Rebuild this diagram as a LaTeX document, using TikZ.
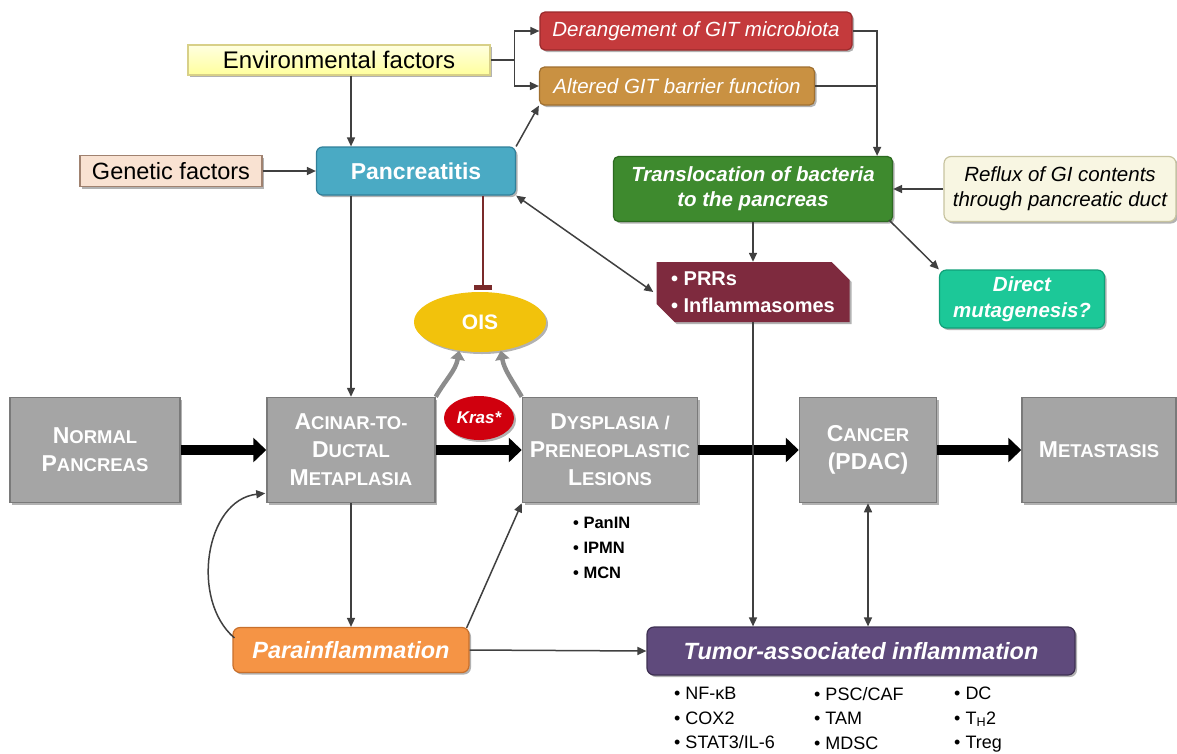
\documentclass[tikz,border=0pt]{standalone}
\usepackage{fontspec}
\setmainfont{Liberation Sans}
\usetikzlibrary{arrows.meta,shapes.geometric,shapes.misc,shadows,calc}
\definecolor{conn}{HTML}{404040}
\definecolor{envc}{HTML}{FFFFC4}
\definecolor{envt}{HTML}{FFFFE0}
\definecolor{envb}{HTML}{D8D088}
\definecolor{genc}{HTML}{F9E2D2}
\definecolor{genb}{HTML}{A08270}
\definecolor{pancc}{HTML}{4AAAC4}
\definecolor{pancb}{HTML}{31809A}
\definecolor{derc}{HTML}{C43A3C}
\definecolor{derb}{HTML}{9A2A2C}
\definecolor{altc}{HTML}{C99142}
\definecolor{altb}{HTML}{A07030}
\definecolor{transc}{HTML}{3E8A2E}
\definecolor{transb}{HTML}{2C6A20}
\definecolor{refc}{HTML}{F8F6E2}
\definecolor{refb}{HTML}{C8C4A0}
\definecolor{prrc}{HTML}{7E2A3E}
\definecolor{dirc}{HTML}{1CC898}
\definecolor{dirb}{HTML}{10A078}
\definecolor{oisc}{HTML}{F2C20C}
\definecolor{krasc}{HTML}{D0000E}
\definecolor{grayc}{HTML}{A5A5A5}
\definecolor{grayb}{HTML}{7A7A7A}
\definecolor{parac}{HTML}{F59445}
\definecolor{parab}{HTML}{C8702C}
\definecolor{tumc}{HTML}{5F4A7C}
\definecolor{tumb}{HTML}{3E3052}
\definecolor{barc}{HTML}{7A2A2A}
\definecolor{curvc}{HTML}{8C8C8C}
\newcommand\SmC[2]{{\fontsize{23}{28}\selectfont #1}{\fontsize{18.5}{28}\selectfont #2}}
\begin{document}
\begin{tikzpicture}[x=1pt,y=-1pt,
  shad/.style={drop shadow={shadow xshift=2pt,shadow yshift=-2pt,opacity=0.3,fill=black}},
  box/.style={shad,draw,line width=1.2pt,inner sep=0pt,align=center},
  graybox/.style={draw=grayb,fill=grayc,line width=1.5pt,inner sep=0pt,align=center,
     text=white,font=\bfseries\fontsize{23}{28}\selectfont,minimum height=105pt,shad},
  conarrow/.style={draw=conn,line width=1.5pt,-{Triangle[length=9pt,width=8pt]}},
  conline/.style={draw=conn,line width=1.5pt},
  dblarrow/.style={draw=conn,line width=1.5pt,{Triangle[length=9pt,width=8pt]}-{Triangle[length=9pt,width=8pt]}},
  fat/.style={draw=black,line width=10pt,-{Triangle[length=13pt,width=24pt]}},
  grayarrow/.style={draw=curvc,line width=4.5pt,-{Triangle[length=9pt,width=14pt]}},
  listtext/.style={inner sep=0pt,align=left,anchor=north west,font=\fontsize{18}{24.5}\selectfont}
]
\useasboundingbox[fill=white] (0,0) rectangle (1177,753);

% top nodes
\node[box,draw=envb,top color=envt,bottom color=envc!80!yellow,minimum width=302pt,minimum height=30pt,font=\fontsize{24}{26}\selectfont] (env) at (339,60) {Environmental factors};
\node[box,draw=genb,fill=genc,minimum width=182pt,minimum height=31pt,font=\fontsize{23.5}{26}\selectfont] (gen) at (171,171) {Genetic factors};
\node[box,draw=pancb,fill=pancc,rounded corners=6pt,minimum width=199pt,minimum height=48pt,text=white,font=\bfseries\fontsize{23}{26}\selectfont] (panc) at (416,171) {Pancreatitis};
\node[box,draw=derb,fill=derc,rounded corners=5pt,minimum width=312pt,minimum height=38pt,text=white,font=\itshape\fontsize{20.5}{25}\selectfont] (der) at (696,31) {Derangement of GIT microbiota};
\node[box,draw=altb,fill=altc,rounded corners=5pt,minimum width=275pt,minimum height=38pt,text=white,font=\itshape\fontsize{20.5}{25}\selectfont] (alt) at (677,86) {Altered GIT barrier function};
\node[box,draw=transb,fill=transc,rounded corners=5pt,minimum width=279pt,minimum height=65pt,text=white,font=\bfseries\itshape\fontsize{20.5}{25}\selectfont] (trans) at (753,189) {Translocation of bacteria\\to the pancreas};
\node[box,draw=refb,fill=refc,rounded corners=7pt,minimum width=232pt,minimum height=65pt,font=\itshape\fontsize{20.5}{25}\selectfont] (ref) at (1060,189) {Reflux of GI contents\\through pancreatic duct};
\node[shad,chamfered rectangle,chamfered rectangle corners={north east,south west},chamfered rectangle xsep=9pt,chamfered rectangle ysep=9pt,fill=prrc,draw=none,inner sep=0pt,minimum width=193pt,minimum height=60pt,text=white,align=left,font=\bfseries\fontsize{20}{27}\selectfont] (prr) at (753,292) {\textbullet\ PRRs\\\textbullet\ Inflammasomes};
\node[box,draw=dirb,fill=dirc,rounded corners=7pt,minimum width=165pt,minimum height=58pt,text=white,font=\bfseries\itshape\fontsize{20.5}{26}\selectfont] (dir) at (1022,299) {Direct\\mutagenesis?};
\node[shad,ellipse,fill=oisc,draw=none,minimum width=132pt,minimum height=60pt,inner sep=0pt,text=white,font=\bfseries\fontsize{21}{24}\selectfont] (ois) at (480,322) {OIS};

% main row
\node[graybox,minimum width=170pt] (norm) at (95,450) {\SmC{N}{ORMAL}\\\SmC{P}{ANCREAS}};
\node[graybox,minimum width=168pt] (acin) at (351,450) {\SmC{A}{CINAR-TO-}\\\SmC{D}{UCTAL}\\\SmC{M}{ETAPLASIA}};
\node[graybox,minimum width=175pt] (dysp) at (610,450) {\SmC{D}{YSPLASIA /}\\\SmC{P}{RENEOPLASTIC}\\\SmC{L}{ESIONS}};
\node[graybox,minimum width=137pt] (canc) at (868,450) {\SmC{C}{ANCER}\\(PDAC)};
\node[graybox,minimum width=154pt] (meta) at (1099,450) {\SmC{M}{ETASTASIS}};
\node[shad,ellipse,fill=krasc,draw=none,minimum width=70pt,minimum height=44pt,inner sep=0pt,text=white,font=\bfseries\itshape\fontsize{17}{20}\selectfont] (kras) at (479,418) {Kras*};

\node[inner sep=0pt,align=left,anchor=north west,font=\bfseries\fontsize{16.5}{25}\selectfont] (les) at (573,517) {\textbullet\ PanIN\\\textbullet\ IPMN\\\textbullet\ MCN};

% bottom
\node[box,draw=parab,fill=parac,rounded corners=7pt,minimum width=236pt,minimum height=45pt,text=white,font=\bfseries\itshape\fontsize{23.5}{26}\selectfont] (para) at (351,650) {Parainflammation};
\node[box,draw=tumb,fill=tumc,rounded corners=7pt,minimum width=428pt,minimum height=48pt,text=white,font=\bfseries\itshape\fontsize{23.5}{26}\selectfont] (tum) at (861,651) {Tumor-associated inflammation};

\node[listtext] (l1) at (674,687) {\textbullet\ NF-κB\\\textbullet\ COX2\\\textbullet\ STAT3/IL-6};
\node[listtext] (l2) at (814,687) {\textbullet\ PSC/CAF\\\textbullet\ TAM\\\textbullet\ MDSC};
\node[listtext] (l3) at (954,687) {\textbullet\ DC\\\textbullet\ T\textsubscript{H}2\\\textbullet\ Treg};

% connectors top
\coordinate (j1) at ($(env.east)+(24,0)$);
\draw[conline] (env.east) -- (j1);
\draw[conarrow] (j1) |- (der.west);
\draw[conarrow] (j1) |- (alt.west);
\coordinate (j2) at ($(trans.north east)+(-16,0)$);
\draw[conarrow] (der.east) -| (j2);
\draw[conline] (alt.east) -- (alt.east -| j2);
\draw[conarrow] (panc.north east) -- (alt.south west);
\draw[conarrow] (env.south -| acin.north) -- (panc.north -| acin.north);
\draw[conarrow] (gen.east) -- (panc.west);
\draw[conarrow] (ref.west) -- (trans.east);
\draw[conarrow] (trans.south) -- (prr.north);
\draw[conarrow] ($(trans.south east)+(-4,-2)$) -- (dir.north west);
\draw[dblarrow] (panc.south east) -- ($(prr.west)+(-3,0)$);
\draw[conarrow] (panc.south -| acin.north) -- (acin.north);
\draw[draw=barc,line width=2pt,-{Bar[width=18pt,line width=5pt]}] (panc.south -| 483,0) -- ($(ois.north)+(3,-2)$);

% gray curved arrows
\draw[grayarrow] (acin.north east) to[out=60,in=-100] (ois.234);
\draw[grayarrow] (dysp.north west) to[out=120,in=-80] (ois.306);

% thick arrows
\draw[fat] (norm.east) -- (acin.west);
\draw[fat] (acin.east) -- (dysp.west);
\draw[fat] (dysp.east) -- (canc.west);
\draw[fat] (canc.east) -- (meta.west);

% bottom connectors
\draw[conarrow] (acin.south) -- (para.north -| acin.south);
\draw[conarrow] ($(para.north west)+(2,11)$) .. controls (190,600) and (205,500) .. ($(acin.south west)+(-1,-10)$);
\draw[conarrow] ($(para.north east)+(-3,1)$) -- (dysp.south west);
\draw[conarrow] (para.east) -- (tum.west);
\draw[conarrow] (prr.south) -- (tum.north -| prr.south);
\draw[dblarrow] (canc.south) -- (tum.north -| canc.south);
\end{tikzpicture}
\end{document}
